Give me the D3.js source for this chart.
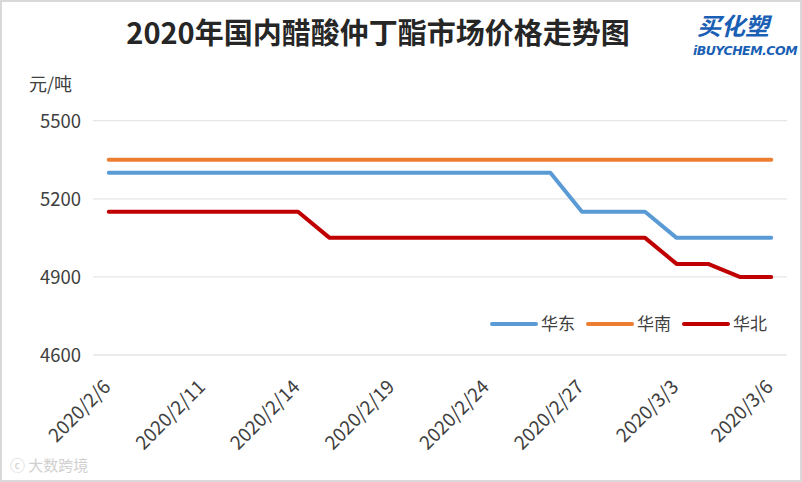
<!DOCTYPE html>
<html><head><meta charset="utf-8">
<script src="https://cdn.jsdelivr.net/npm/d3@7/dist/d3.min.js"></script>
<style>body{margin:0;background:#fff}svg{display:block}</style>
</head><body>
<script>
const dates = ["2020/2/6","2020/2/7","2020/2/10","2020/2/11","2020/2/12","2020/2/13","2020/2/14","2020/2/17","2020/2/18","2020/2/19","2020/2/20","2020/2/21","2020/2/24","2020/2/25","2020/2/26","2020/2/27","2020/2/28","2020/3/2","2020/3/3","2020/3/4","2020/3/5","2020/3/6"];
const huadong = [5300,5300,5300,5300,5300,5300,5300,5300,5300,5300,5300,5300,5300,5300,5300,5150,5150,5150,5050,5050,5050,5050];
const huanan  = [5350,5350,5350,5350,5350,5350,5350,5350,5350,5350,5350,5350,5350,5350,5350,5350,5350,5350,5350,5350,5350,5350];
const huabei  = [5150,5150,5150,5150,5150,5150,5150,5050,5050,5050,5050,5050,5050,5050,5050,5050,5050,5050,4950,4950,4900,4900];
const seriesNames = ["华东","华南","华北"];
const seriesColors = ["#5B9BD5","#ED7D31","#C00000"];
const yTicks = [4600,4900,5200,5500];
const xTickLabels = ["2020/2/6","2020/2/11","2020/2/14","2020/2/19","2020/2/24","2020/2/27","2020/3/3","2020/3/6"];
const title = "2020年国内醋酸仲丁酯市场价格走势图";
const unit = "元/吨";

const W = 802, H = 482;
const svg = d3.select("body").append("svg").attr("width", W).attr("height", H);
svg.append("rect").attr("x",1).attr("y",1).attr("width",W-2).attr("height",H-2)
  .attr("fill","#fff").attr("stroke","#d9d9d9").attr("stroke-width",2);

const font = "'Microsoft YaHei','Noto Sans CJK SC','Noto Sans',sans-serif";
const x = d3.scaleBand().domain(dates).range([93, 787]).padding(0);
const y = d3.scaleLinear().domain([4600, 5500]).range([355, 120.7]);
const cx = d => x(d) + x.bandwidth()/2;

// gridlines
svg.append("g").selectAll("line").data(yTicks).join("line")
  .attr("x1", 93).attr("x2", 787)
  .attr("y1", d => y(d)).attr("y2", d => y(d))
  .attr("stroke", "#e6e6e6").attr("stroke-width", 1.3);

// y axis
const yAxis = svg.append("g").attr("transform","translate(81,0)")
  .call(d3.axisLeft(y).tickValues(yTicks).tickSize(0).tickPadding(0).tickFormat(d3.format("d")));
yAxis.select(".domain").remove();
yAxis.selectAll("text").attr("font-family", font).attr("font-size", 18.5).attr("fill", "#404040").attr("dy","0.35em");

// x axis
const xAxis = svg.append("g").attr("transform","translate(0,355)")
  .call(d3.axisBottom(x).tickValues(xTickLabels).tickSize(0).tickFormat(d => d));
xAxis.select(".domain").remove();
xAxis.selectAll("text")
  .attr("font-family", font).attr("font-size", 19).attr("fill", "#404040")
  .attr("text-anchor","end").attr("dy", 0).attr("y", 0)
  .attr("transform","translate(3,33) rotate(-45)");

// lines
const data = [huadong, huanan, huabei];
const line = d3.line().x((v,i) => cx(dates[i])).y(v => y(v));
svg.append("g").selectAll("path").data(data).join("path")
  .attr("d", d => line(d)).attr("fill","none")
  .attr("stroke", (d,i) => seriesColors[i]).attr("stroke-width", 4)
  .attr("stroke-linejoin","round").attr("stroke-linecap","round");

// legend
const legX = [492, 588, 684];
const leg = svg.append("g").selectAll("g").data(seriesNames).join("g")
  .attr("transform", (d,i) => `translate(${legX[i]},324)`);
leg.append("line").attr("x1",0).attr("x2",44).attr("y1",0).attr("y2",0)
  .attr("stroke",(d,i)=>seriesColors[i]).attr("stroke-width",4).attr("stroke-linecap","round");
leg.append("text").attr("x",49).attr("y",0).attr("dy","0.35em").text(d=>d)
  .attr("font-family", font).attr("font-size", 17).attr("fill","#404040");

// title
svg.append("text").attr("x", 378).attr("y", 44).attr("text-anchor","middle")
  .attr("font-family", font).attr("font-weight","bold").attr("font-size", 29)
  .attr("fill","#262626").text(title);

// unit
svg.append("text").attr("x", 29).attr("y", 91).attr("font-family", font)
  .attr("font-size", 18).attr("fill","#404040").text(unit);

// logo
svg.append("text").attr("x", 733).attr("y", 35).attr("text-anchor","middle")
  .attr("font-family", font).attr("font-weight","bold").attr("font-style","italic")
  .attr("font-size", 24).attr("fill","#1a5fb4").text("买化塑");
svg.append("text").attr("x", 745).attr("y", 55).attr("text-anchor","middle")
  .attr("font-family", "'DejaVu Sans',sans-serif").attr("font-weight","bold").attr("font-style","italic")
  .attr("font-size", 12.5).attr("fill","#1a5fb4").attr("letter-spacing","-0.5").text("iBUYCHEM.COM");

// watermark
svg.append("text").attr("x", 10).attr("y", 471)
  .attr("font-family", font).attr("font-size", 15).attr("fill","#d0d0d0").text("ⓒ 大数跨境");
</script>
</body></html>
